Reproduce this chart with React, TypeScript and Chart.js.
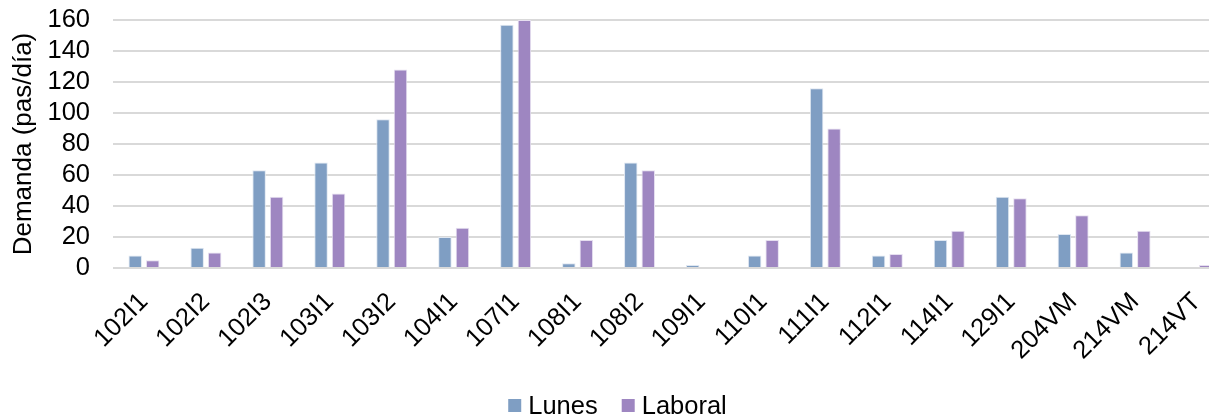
import React, { useEffect, useRef } from "react";
import { Chart, registerables } from "chart.js";

Chart.register(...registerables);

const categories = ["102I1", "102I2", "102I3", "103I1", "103I2", "104I1", "107I1", "108I1", "108I2", "109I1", "110I1", "111I1", "112I1", "114I1", "129I1", "204VM", "214VM", "214VT"];
const lunes = [8, 13, 63, 68, 96, 20, 157, 3, 68, 2, 8, 116, 8, 18, 46, 22, 10, 0];
const laboral = [5, 10, 46, 48, 128, 26, 160, 18, 63, 0, 18, 90, 9, 24, 45, 34, 24, 2];
const yTicks = [0, 20, 40, 60, 80, 100, 120, 140, 160];

const FONT = "'Liberation Sans', Arial, sans-serif";
const FS = 25.5;

const bottomLegend = {
  id: "bottomLegend",
  afterDraw(chart: any) {
    const ctx = chart.ctx;
    const ds = chart.data.datasets;
    const box = 13;
    const gapText = 7;
    const gapItem = 24;
    ctx.save();
    ctx.font = `${FS}px ${FONT}`;
    ctx.textBaseline = "middle";
    ctx.textAlign = "left";
    const widths = ds.map((d: any) => ctx.measureText(d.label).width);
    const total = widths.reduce((a: number, w: number) => a + box + gapText + w, 0) + gapItem * (ds.length - 1);
    let x = 617.5 - total / 2;
    const cy = 405.5;
    ds.forEach((d: any, i: number) => {
      ctx.fillStyle = d.backgroundColor;
      ctx.fillRect(x, cy - box / 2, box, box);
      x += box + gapText;
      ctx.fillStyle = "#000";
      ctx.fillText(d.label, x, cy + 1);
      x += widths[i] + gapItem;
    });
    ctx.restore();
  },
};

export default function App() {
  const ref = useRef<HTMLCanvasElement | null>(null);
  useEffect(() => {
    const ctx = ref.current!;
    const chart = new Chart(ctx, {
      type: "bar",
      data: {
        labels: categories,
        datasets: [
          {
            label: "Lunes",
            data: lunes,
            backgroundColor: "#7f9ec3",
            borderColor: "#dfe7f1",
            borderWidth: 1,
            categoryPercentage: 0.565,
            barPercentage: 0.77,
          },
          {
            label: "Laboral",
            data: laboral,
            backgroundColor: "#9e86c1",
            borderColor: "#e6dff0",
            borderWidth: 1,
            categoryPercentage: 0.565,
            barPercentage: 0.77,
          },
        ],
      },
      plugins: [bottomLegend],
      options: {
        animation: false,
        responsive: false,
        maintainAspectRatio: false,
        layout: { padding: { top: 20, right: 0, left: 0, bottom: 0 } },
        plugins: {
          legend: { display: false },
          tooltip: { enabled: false },
        },
        scales: {
          x: {
            grid: { display: false, drawTicks: false },
            border: { display: false },
            ticks: {
              color: "#000",
              font: { family: FONT, size: FS },
              minRotation: 45,
              maxRotation: 45,
              autoSkip: false,
              padding: 19,
            },
            afterFit: (axis: any) => {
              axis.height = 149;
              axis.paddingLeft = 0;
              axis.paddingRight = 0;
            },
          },
          y: {
            min: 0,
            max: 160,
            afterBuildTicks: (axis: any) => {
              axis.ticks = yTicks.map((v) => ({ value: v }));
            },
            afterFit: (axis: any) => {
              axis.width = 113;
            },
            grid: {
              color: "#d9d9d9",
              lineWidth: 2,
              drawTicks: true,
              tickLength: 23,
              tickColor: "rgba(0,0,0,0)",
            },
            border: { display: false },
            ticks: {
              color: "#000",
              font: { family: FONT, size: FS },
              padding: 0,
              autoSkip: false,
            },
            title: {
              display: true,
              text: "Demanda (pas/día)",
              color: "#000",
              font: { family: FONT, size: 26 },
              padding: { top: 8, bottom: 0 },
            },
          },
        },
      },
    });
    return () => chart.destroy();
  }, []);
  return (
    <div style={{ position: "absolute", left: 0, top: 0, width: 1209, height: 417, background: "#fff", overflow: "hidden" }}>
      <canvas ref={ref} width={1228} height={417} style={{ width: 1228, height: 417, display: "block" }} />
    </div>
  );
}
